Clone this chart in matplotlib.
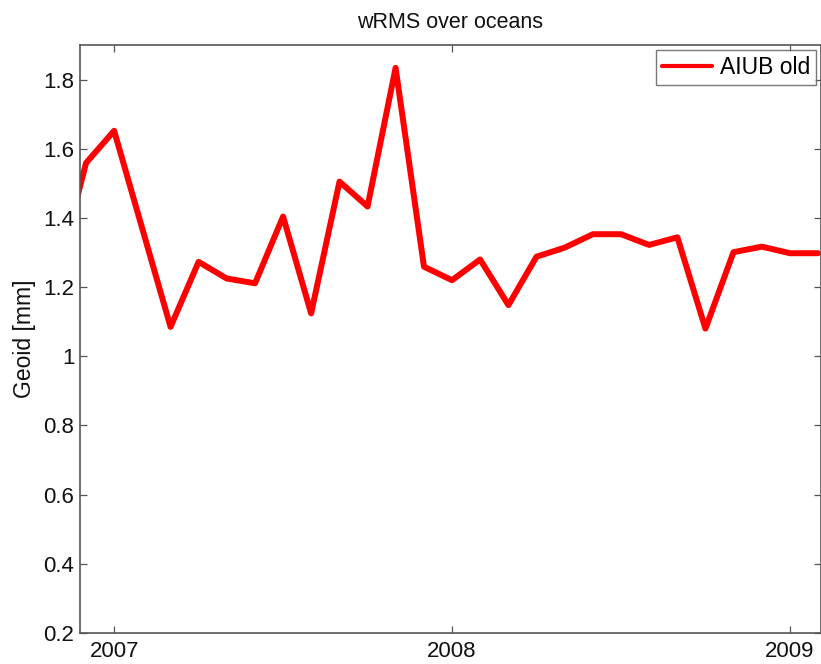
import numpy as np
import matplotlib
matplotlib.use("Agg")
import matplotlib.pyplot as plt

plt.rcParams['font.family'] = ['Liberation Sans', 'DejaVu Sans']

# monthly epochs (decimal years) and wRMS values
epochs = [2006.833, 2006.917, 2007.000, 2007.167, 2007.250, 2007.333,
          2007.417, 2007.500, 2007.583, 2007.667, 2007.750, 2007.833,
          2007.917, 2008.000, 2008.083, 2008.167, 2008.250, 2008.333,
          2008.417, 2008.500, 2008.583, 2008.667, 2008.750, 2008.833,
          2008.917, 2009.000, 2009.083]
wrms = [1.24, 1.559, 1.652, 1.085, 1.273, 1.225,
        1.211, 1.404, 1.124, 1.505, 1.433, 1.834,
        1.259, 1.220, 1.280, 1.148, 1.288, 1.314,
        1.353, 1.353, 1.322, 1.344, 1.080, 1.301,
        1.317, 1.298, 1.298]
year_ticks = [2007, 2008, 2009]
y_ticks = [0.2, 0.4, 0.6, 0.8, 1.0, 1.2, 1.4, 1.6, 1.8]
y_ticklabels = ['0.2', '0.4', '0.6', '0.8', '1', '1.2', '1.4', '1.6', '1.8']

fig = plt.figure(figsize=(8.21, 6.64), dpi=100)
ax = fig.add_axes([80/821, 31/664, 741/821, 588/664])

ax.plot(epochs, wrms, color='#ff0000', lw=4.3, label='AIUB old',
        solid_joinstyle='round', solid_capstyle='round')

ax.set_xlim(2006.899, 2009.092)
ax.set_ylim(0.2, 1.9)
ax.set_xticks(year_ticks)
ax.set_xticklabels([str(y) for y in year_ticks])
ax.set_yticks(y_ticks)
ax.set_yticklabels(y_ticklabels)
ax.tick_params(direction='in', top=True, right=True, length=5, width=0.9,
               labelsize=16, colors='#555555', labelcolor='#111111', pad=4)
ax.tick_params(axis='x', pad=6)
for s in ax.spines.values():
    s.set_color('#555555')
    s.set_linewidth(1.2)

ax.set_title('wRMS over oceans', fontsize=15.5, pad=12, color='#111111')
ax.set_ylabel('Geoid [mm]', fontsize=16.5, labelpad=5, color='#111111')

leg = ax.legend(loc='upper right', fontsize=16.5, frameon=True, fancybox=False,
                borderpad=0.25, handlelength=2.2, handletextpad=0.35,
                borderaxespad=0.22)
leg.get_frame().set_edgecolor('#555555')
leg.get_frame().set_linewidth(1.0)
for h in leg.get_lines():
    h.set_linewidth(3)

fig.savefig('out.png', dpi=100)
